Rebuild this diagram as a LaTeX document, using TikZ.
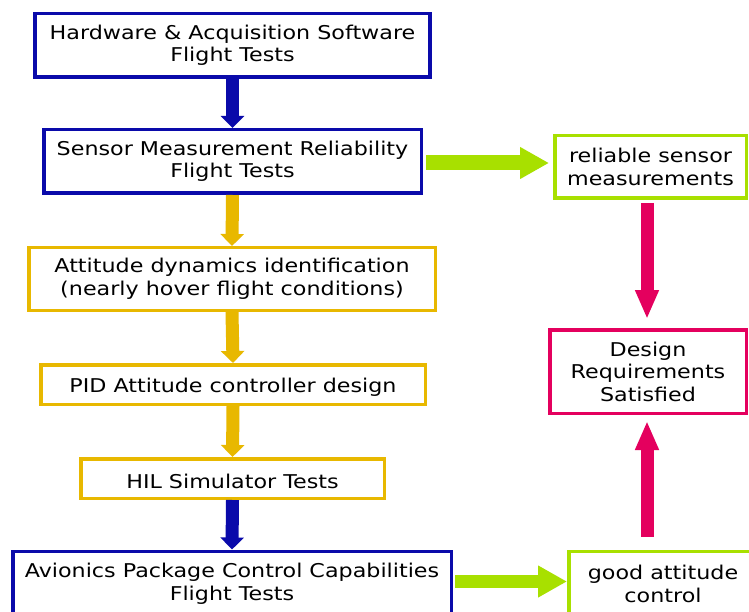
\documentclass[tikz,border=0pt]{standalone}
\usepackage{fontspec}
\setmainfont{DejaVu Sans}[FakeStretch=1.17]
\usetikzlibrary{arrows.meta}
\definecolor{cblue}{HTML}{0A0AAA}
\definecolor{cyellow}{HTML}{E8B800}
\definecolor{cgreen}{HTML}{A8E000}
\definecolor{cpink}{HTML}{E4005E}
\tikzset{
  box/.style={draw=#1, line width=3.5pt, fill=white, inner sep=0pt, align=center,
    font=\fontsize{19}{22.5}\selectfont, text=black,
    execute at begin node={\rule{0pt}{19.5pt}}},
  vthin/.style={draw=#1, line width=13pt,
    -{Triangle[width=23pt,length=12pt]}},
  vthick/.style={draw=#1, line width=14pt,
    -{Triangle[width=30pt,length=29pt]}},
}
\begin{document}
\begin{tikzpicture}[x=1pt,y=-1pt]
\useasboundingbox (0,0) rectangle (749,612);
\fill[white] (0,0) rectangle (749,612);
\node[box=cblue, minimum width=395pt, minimum height=63.5pt] (hw) at (232.5,45.5)
  {Hardware \& Acquisition Software\\Flight Tests};
\node[box=cblue, minimum width=377.5pt, minimum height=63.5pt] (smr) at (232.5,161.5)
  {Sensor Measurement Reliability\\Flight Tests};
\node[box=cyellow, minimum width=406.5pt, minimum height=62.5pt] (att) at (232,279)
  {Attitude dynamics identification\\(nearly hover flight conditions)};
\node[box=cyellow, minimum width=384.5pt, minimum height=39.5pt] (pid) at (233,384.5)
  {PID Attitude controller design};
\node[box=cyellow, minimum width=303.5pt, minimum height=39.5pt] (hil) at (232.5,478.5)
  {HIL Simulator Tests};
\node[box=cblue, minimum width=438.5pt, minimum height=65.5pt] (avi) at (232,584)
  {Avionics Package Control Capabilities\\Flight Tests};
\node[box=cgreen, minimum width=191.5pt, minimum height=62.5pt] (rsm) at (650.5,167)
  {reliable sensor\\measurements};
\node[box=cpink, minimum width=196.5pt, minimum height=83.5pt] (drs) at (648,371.5)
  {Design\\Requirements\\Satisfied};
\node[box=cgreen, minimum width=188.5pt, minimum height=65.5pt] (gac) at (663,584)
  {good attitude\\control};
% arrows
\draw[vthin=cblue] (hw.south) -- (smr.north);
\draw[vthin=cyellow] (smr.south) -- (att.north);
\draw[vthin=cyellow] (att.south) -- (pid.north);
\draw[vthin=cyellow] (pid.south) -- (hil.north);
\draw[vthin=cblue] (hil.south) -- (avi.north);
\draw[vthick=cgreen, line width=15pt, shorten <=3pt, shorten >=4pt] (smr.east |- 0,163) -- (rsm.west |- 0,163);
\draw[vthick=cgreen, line width=13pt, shorten <=2pt, shorten >=0pt] (avi.east |- 0,581.5) -- (gac.west |- 0,581.5);
\draw[vthick=cpink, line width=13pt, -{Triangle[width=22pt,length=29pt]}, shorten <=3pt, shorten >=9pt] (rsm.south -| 647,0) -- (drs.north -| 647,0);
\draw[vthick=cpink, line width=13pt, -{Triangle[width=22pt,length=29pt]}, shorten <=13pt, shorten >=6pt] (gac.north -| 647,0) -- (drs.south -| 647,0);
\end{tikzpicture}
\end{document}
